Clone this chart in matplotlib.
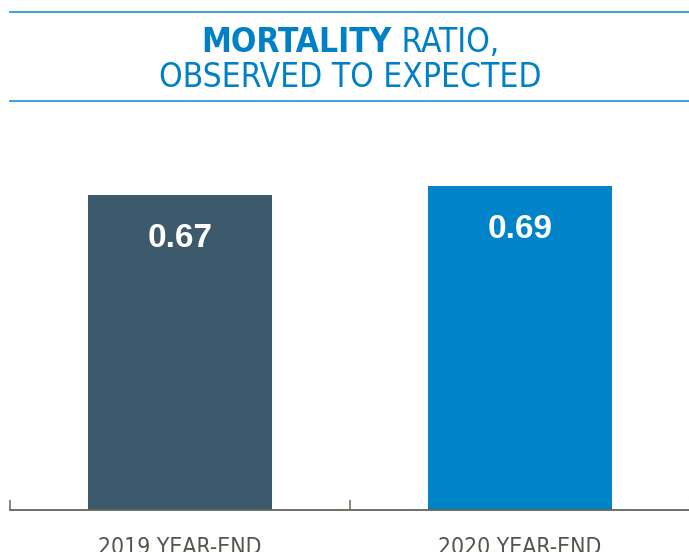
import matplotlib.pyplot as plt
from matplotlib.lines import Line2D

categories = ["2019 YEAR-END", "2020 YEAR-END"]
values = [0.67, 0.69]
labels = ["0.67", "0.69"]
colors = ["#3d5a6c", "#0083c9"]

W, H = 689, 552
fig = plt.figure(figsize=(W / 100, H / 100), dpi=100)
narrow = ["DejaVu Sans"]

# axes: baseline at y=510 px, from x=10 px to right edge
ax = fig.add_axes([10 / W, 42 / H, 680 / W, 390 / H])
x = range(len(categories))
ax.bar(x, values, width=0.54, color=colors)
ax.set_xlim(-0.5, 1.5)
ax.set_ylim(0, 390 / 469.6)

for i, (v, lab) in enumerate(zip(values, labels)):
    ax.annotate(lab, (i, v), xytext=(0, -31), textcoords="offset points",
                ha="center", va="center", color="white", fontsize=24,
                fontweight="bold", family=["Liberation Sans", "DejaVu Sans"])

for s in ["top", "right", "left"]:
    ax.spines[s].set_visible(False)
ax.spines["bottom"].set_color("#66665c")
ax.spines["bottom"].set_linewidth(1.3)
ax.set_yticks([])
ax.set_xticks([-0.5, 0.5, 1.5])
ax.set_xticklabels([])
ax.tick_params(axis="x", which="major", direction="in", length=7,
               width=1.1, color="#66665c")
ax.set_xticks(list(x), minor=True)
ax.set_xticklabels(categories, minor=True, fontsize=16.5, color="#55554d",
                   family=narrow, fontstretch="condensed", fontweight="light")
ax.tick_params(axis="x", which="minor", length=0, pad=19)

# title rules
fig.add_artist(Line2D([10 / W, 1], [1 - 12 / H, 1 - 12 / H],
                      color="#2a9bd8", lw=1.3))
fig.add_artist(Line2D([10 / W, 1], [1 - 101 / H, 1 - 101 / H],
                      color="#2a9bd8", lw=1.3))

blue = "#0080c6"
t1 = fig.text(0, 1 - 42 / H, "MORTALITY", fontsize=24, fontweight="bold",
              color=blue, va="center", ha="left", family=narrow,
              fontstretch="condensed")
t2 = fig.text(0, 1 - 42 / H, " RATIO,", fontsize=24, color=blue,
              va="center", ha="left", family=narrow, fontstretch="condensed",
              fontweight="light")
fig.canvas.draw()
r = fig.canvas.get_renderer()
w1 = t1.get_window_extent(r).width
w2 = t2.get_window_extent(r).width
x0 = 350 - (w1 + w2) / 2
t1.set_x(x0 / W)
t2.set_x((x0 + w1) / W)
fig.text(350 / W, 1 - 77 / H, "OBSERVED TO EXPECTED", fontsize=24,
         color=blue, va="center", ha="center", family=narrow,
         fontstretch="condensed", fontweight="light")

fig.savefig("out.png", dpi=100)
